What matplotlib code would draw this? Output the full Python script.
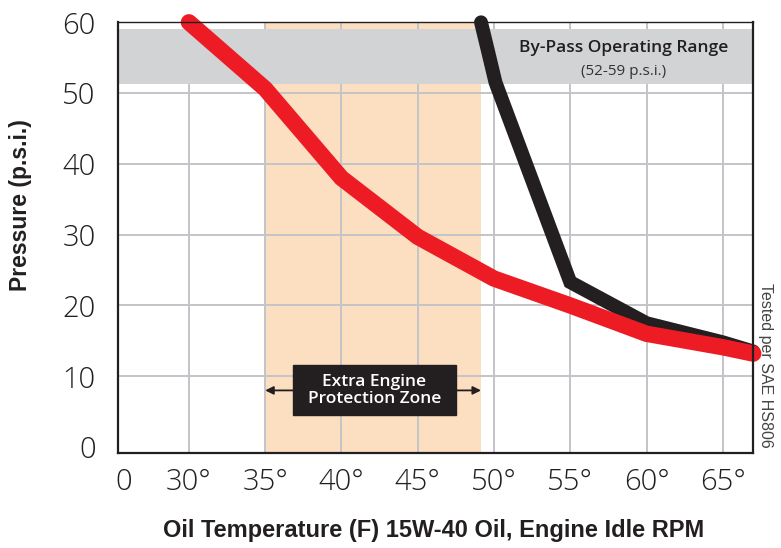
import matplotlib
matplotlib.use("Agg")
import matplotlib.pyplot as plt
from matplotlib.patches import Rectangle

# Data
red_temp = [30, 35, 40, 45, 50, 55, 60, 65, 67]
red_psi = [60, 50.6, 38.0, 29.7, 23.8, 20.0, 16.0, 14.1, 13.2]
black_temp = [49.15, 49.6, 50.1, 55, 60, 65, 67]
black_psi = [60, 56, 51.5, 23.3, 17.5, 14.8, 13.5]
bypass_range = (51.3, 59.0)
protection_zone = (35, 49.15)
x_ticks = [30, 35, 40, 45, 50, 55, 60, 65]
x_tick_labels = ["30°", "35°", "40°", "45°", "50°", "55°", "60°", "65°"]
y_ticks = [0, 10, 20, 30, 40, 50, 60]

DARK = "#231f20"
RED = "#ed1c24"
ORANGE = "#fcdec0"
GRAY = "#d1d3d4"
GRID = "#c4c4c8"

fig = plt.figure(figsize=(7.81, 5.48), dpi=100)
ax = fig.add_axes([0.1511, 0.1739, 0.8134, 0.7854])
ax.set_xlim(25.35, 67.0)
ax.set_ylim(-0.8, 60)

ax.axvspan(*protection_zone, color=ORANGE, zorder=0, lw=0)
ax.set_axisbelow(False)
for x in x_ticks:
    ax.axvline(x, color=GRID, lw=1.4, zorder=1)
for y in y_ticks[1:]:
    ax.axhline(y, color=GRID, lw=1.4, zorder=1)
ax.axhspan(*bypass_range, color=GRAY, zorder=2, lw=0)

ax.plot(black_temp, black_psi, color=DARK, lw=10, solid_capstyle="round",
        solid_joinstyle="miter", zorder=4, clip_on=False)
ax.plot(red_temp, red_psi, color=RED, lw=11.8, solid_capstyle="round",
        solid_joinstyle="miter", zorder=5, clip_on=False)

# ticks
ax.set_xticks([25.7] + x_ticks)
ax.set_xticklabels(["0"] + x_tick_labels)
ax.set_yticks(y_ticks)
ax.set_yticklabels([str(v) for v in y_ticks])
ax.tick_params(length=0, labelsize=21, colors=DARK)
ax.tick_params(axis="x", pad=11)
ax.tick_params(axis="y", pad=16)
for lbl in ax.get_xticklabels() + ax.get_yticklabels():
    lbl.set_family("Open Sans")
    lbl.set_fontweight("light")
    lbl.set_color(DARK)

for side in ["left", "bottom", "right"]:
    ax.spines[side].set_color(DARK)
    ax.spines[side].set_linewidth(1.6)
ax.spines["top"].set_color(DARK)
ax.spines["top"].set_linewidth(1.0)
for s in ax.spines.values():
    s.set_zorder(6)

fig.text(433.5 / 781, 1 - 530 / 548, "Oil Temperature (F) 15W-40 Oil, Engine Idle RPM",
         fontsize=17, fontweight="bold", family="Liberation Sans", color=DARK,
         ha="center", va="center")
fig.text(21 / 781, 1 - 205 / 548, "Pressure (p.s.i.)", rotation=90, fontsize=16.5,
         fontweight="bold", family="Liberation Sans", color=DARK,
         ha="center", va="center")

# bypass label
ax.text(58.5, 56.3, "By-Pass Operating Range", ha="center", va="center",
        fontsize=12.5, fontweight="semibold", family="Open Sans", color=DARK, zorder=7)
ax.text(58.5, 53.1, "(52-59 p.s.i.)", ha="center", va="center",
        fontsize=11, family="Open Sans", color="#333333", zorder=7)

# protection zone annotation
ax.annotate("", xy=(protection_zone[0], 8.0), xytext=(42.17, 8.0),
            arrowprops=dict(arrowstyle="-|>", color=DARK, lw=1.3,
                            mutation_scale=12, shrinkA=0, shrinkB=0), zorder=7)
ax.annotate("", xy=(protection_zone[1], 8.0), xytext=(42.17, 8.0),
            arrowprops=dict(arrowstyle="-|>", color=DARK, lw=1.3,
                            mutation_scale=12, shrinkA=0, shrinkB=0), zorder=7)
ax.add_patch(Rectangle((36.85, 4.49), 47.48 - 36.85, 11.55 - 4.49,
                       fc=DARK, ec=DARK, zorder=8))
ax.text(42.17, 8.0, "Extra Engine\nProtection Zone", ha="center", va="center",
        fontsize=12.5, fontweight="semibold", family="Open Sans", color="white",
        linespacing=1.1, zorder=9)

fig.text(765 / 781, 1 - 365 / 548, "Tested per SAE HS806", rotation=270,
         ha="center", va="center", fontsize=11.5, family="Liberation Sans",
         color="#444444")

fig.savefig("out.png", dpi=100)
